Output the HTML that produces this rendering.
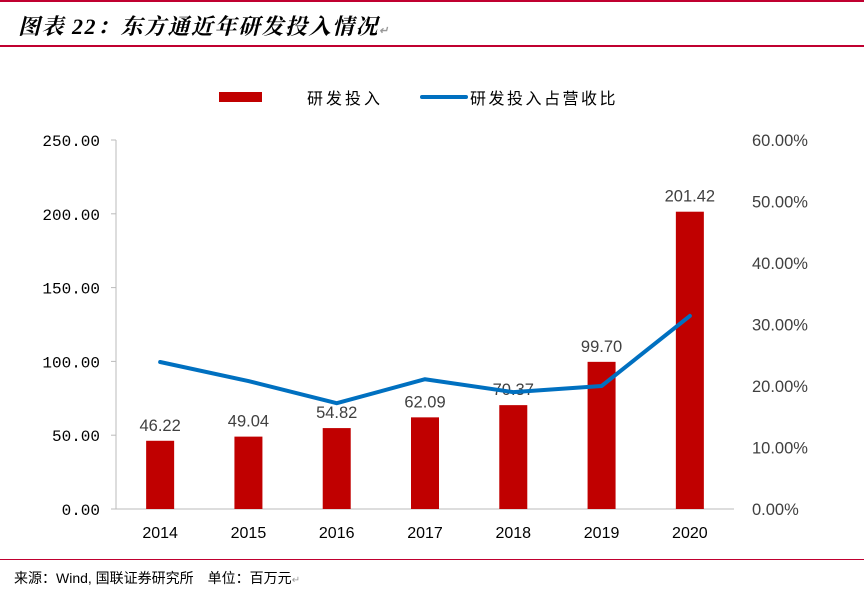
<!DOCTYPE html>
<html><head><meta charset="utf-8"><style>
body{margin:0;width:864px;height:590px;background:#fff;overflow:hidden;position:relative;font-family:"Liberation Sans","Noto Sans CJK SC",sans-serif}
.t{position:absolute;left:18px;top:10px;font-size:22px;font-style:italic;font-weight:bold;letter-spacing:1.5px;font-family:"Liberation Serif","Noto Serif CJK SC",serif;color:#000}
.hl{position:absolute;left:0;width:864px;height:2px;background:#c00030}
.src{position:absolute;left:14px;top:568px;font-size:14px;color:#000}
</style></head><body>
<div class="hl" style="top:0"></div>
<div class="t">图表 22：东方通近年研发投入情况<span style="font-size:11px;color:#999">↵</span></div>
<div class="hl" style="top:45px"></div>
<div class="hl" style="top:559px;height:1px"></div>
<div class="src">来源：Wind, 国联证券研究所　单位：百万元<span style="font-size:10px;color:#999">↵</span></div>
<svg id="c" width="864" height="590" style="position:absolute;left:0;top:0"></svg>
<script>
const categories=["2014","2015","2016","2017","2018","2019","2020"];
const spend=[46.22,49.04,54.82,62.09,70.37,99.70,201.42];
const ratio=[23.9,20.8,17.2,21.1,19.0,20.0,31.4];
const leftTicks=[0,50,100,150,200,250];
const rightTicks=[0,10,20,30,40,50,60];
const NS="http://www.w3.org/2000/svg",svg=document.getElementById('c');
const y0=509,yTop=140,x0=116,xEnd=734;
const yL=v=>y0-v/250*(y0-yTop), yR=v=>y0-v/60*(y0-yTop);
const step=(xEnd-x0)/categories.length, xC=i=>x0+step*(i+0.5);
function mk(t,a,txt){const e=document.createElementNS(NS,t);for(const k in a)e.setAttribute(k,a[k]);if(txt!==undefined)e.textContent=txt;svg.appendChild(e);return e;}
let e=mk('line',{x1:x0,y1:yTop,x2:x0,y2:y0,stroke:'#bbb'});

e=mk('line',{x1:x0,y1:y0,x2:xEnd,y2:y0,stroke:'#bbb'});

leftTicks.forEach(v=>{const t=mk('text',{x:100,y:yL(v)+6,'text-anchor':'end','font-size':16,'font-family':'Liberation Mono,monospace',fill:'#000'},v.toFixed(2));

const l=mk('line',{x1:x0-5,y1:yL(v),x2:x0,y2:yL(v),stroke:'#bbb'});});
rightTicks.forEach(v=>{const t=mk('text',{x:752,y:yR(v)+6,'font-size':16.5,fill:'#404040'},v.toFixed(2)+'%');
});
categories.forEach((c,i)=>{const r=mk('rect',{x:xC(i)-14,y:yL(spend[i]),width:28,height:y0-yL(spend[i]),fill:'#c00000'});

const l=mk('text',{x:xC(i),y:yL(spend[i])-10,'text-anchor':'middle','font-size':16.5,fill:'#404040'},spend[i].toFixed(2));

const x=mk('text',{x:xC(i),y:538,'text-anchor':'middle','font-size':16,fill:'#000'},c);
});
e=mk('polyline',{points:ratio.map((v,i)=>xC(i)+','+yR(v)).join(' '),fill:'none',stroke:'#0070c0','stroke-width':4,'stroke-linejoin':'round','stroke-linecap':'round'});

e=mk('rect',{x:219,y:92,width:43,height:10,fill:'#c00000'});

e=mk('text',{x:307,y:104,'font-size':16,'letter-spacing':3,fill:'#000'},'研发投入');

e=mk('line',{x1:422,y1:97,x2:466,y2:97,stroke:'#0070c0','stroke-width':4,'stroke-linecap':'round'});

e=mk('text',{x:470,y:104,'font-size':16,'letter-spacing':2.5,fill:'#000'},'研发投入占营收比');

</script>
</body></html>
